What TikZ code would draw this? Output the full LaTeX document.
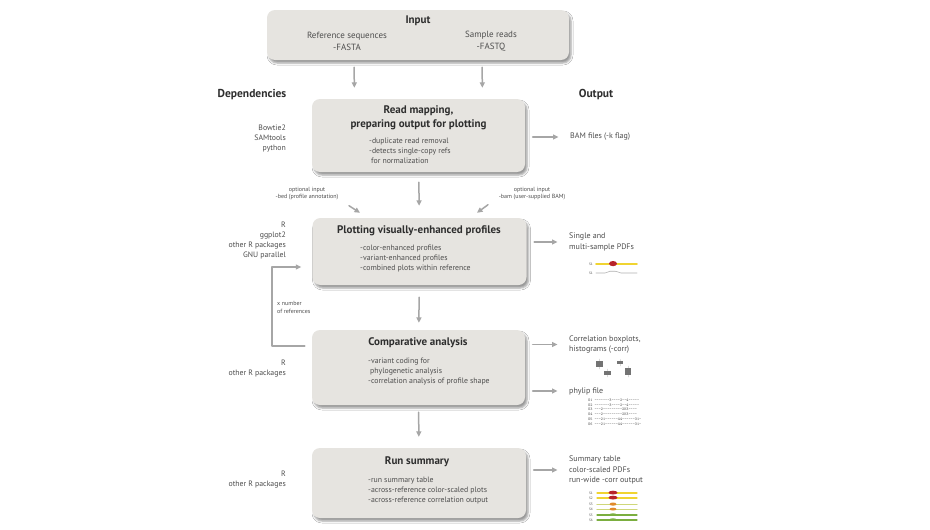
\documentclass[tikz,border=0pt]{standalone}
\usepackage{fontspec}
\setmainfont{PT Sans}
\usetikzlibrary{arrows.meta,calc,positioning,shadows.blur}
\definecolor{flowBox}{HTML}{E6E4E0}
\definecolor{flowInk}{HTML}{2E2E2E}
\definecolor{flowText}{HTML}{4D4D4D}
\definecolor{flowArrow}{HTML}{A6A6A6}
\definecolor{plotYel}{HTML}{F0D431}
\definecolor{plotRed}{HTML}{B8232B}
\definecolor{plotOra}{HTML}{E08A2A}
\definecolor{plotLime}{HTML}{CFD77A}
\definecolor{plotGrn}{HTML}{7BAE3F}

\begin{document}
\begin{tikzpicture}[x=1pt,y=-1pt,>={Triangle[length=5.5pt,width=5pt]},line cap=round,line join=round]
\path[fill=white] (0,0) rectangle (930,530);
\tikzset{stage/.style={fill=flowBox,rounded corners=8pt,blur shadow={shadow xshift=2pt,shadow yshift=-3pt,shadow blur radius=2pt,shadow opacity=40}},
  flow/.style={draw=flowArrow,line width=1.5pt,->},
  outflow/.style={flow,shorten <=7.5pt,shorten >=11.5pt},
  heading/.style={text=flowInk,font=\bfseries\fontsize{11}{14}\selectfont,align=center,inner sep=0pt},
  bullet/.style={text=flowText,font=\fontsize{7.8}{10}\selectfont,align=left,anchor=west,inner sep=0pt},
  dep/.style={text=flowText,font=\fontsize{7.8}{10}\selectfont,align=right,anchor=east,inner sep=0pt},
  result/.style={text=flowText,font=\fontsize{8}{10.5}\selectfont,align=left,anchor=west,inner sep=0pt},
  note/.style={text=flowText,font=\fontsize{6}{7.5}\selectfont,align=center,inner sep=0pt},
  tag/.style={text=flowText,font=\fontsize{3.4}{4}\selectfont,anchor=east,inner sep=0pt}}
% column headers
\node[heading,font=\bfseries\fontsize{11.5}{13}\selectfont] (deptitle) at (252,95) {Dependencies};
\node[heading,font=\bfseries\fontsize{11.5}{13}\selectfont] (outtitle) at (596,95) {Output};
% input
\node[stage,minimum width=302pt,minimum height=50pt] (input) at (418,35) {};
\node[heading] (inputtitle) at (418,21) {Input};
\node[result,anchor=center,align=center,font=\fontsize{9}{12}\selectfont] (refseq) at (347,41) {Reference sequences\\-FASTA};
\node[result,anchor=center,align=center,font=\fontsize{9}{12}\selectfont] (reads) at (491,41) {Sample reads\\-FASTQ};
% read mapping
\node[stage,minimum width=213pt,minimum height=73pt] (map) at (418.5,135.5) {};
\node[heading] (maptitle) at (418.5,118) {Read mapping,\\preparing output for plotting};
\node[bullet] (mapitems) at (369,151) {-duplicate read removal\\-detects single-copy refs\\\hspace*{2pt}for normalization};
\node[dep] (mapdeps) at (286,139) {Bowtie2\\SAMtools\\python};
\node[result] (bam) at (570,137) {BAM files (-k flag)};
% plotting
\node[stage,minimum width=214pt,minimum height=67pt] (plot) at (419.5,251.5) {};
\node[heading] (plottitle) at (419,231) {Plotting visually-enhanced profiles};
\node[bullet] (plotitems) at (360,259) {-color-enhanced profiles\\-variant-enhanced profiles\\-combined plots within reference};
\node[dep] (plotdeps) at (286,241) {R\\ggplot2\\other R packages\\GNU parallel};
\node[result] (pdfs) at (569,242) {Single and\\multi-sample PDFs};
\node[note] (optbed) at (307,193.5) {optional input\\-bed (profile annotation)};
\node[note] (optbam) at (532,193.5) {optional input\\-bam (user-supplied BAM)};
% comparative analysis
\node[stage,minimum width=213pt,minimum height=75pt] (comp) at (418.5,367.5) {};
\node[heading] (comptitle) at (418,343) {Comparative analysis};
\node[bullet] (compitems) at (368,372) {-variant coding for\\\hspace*{2pt}phylogenetic analysis\\-correlation analysis of profile shape};
\node[dep] (compdeps) at (286,368.5) {R\\other R packages};
\node[result] (corr) at (569,344.5) {Correlation boxplots,\\histograms (-corr)};
\node[result] (phylip) at (569,391) {phylip file};
\node[note,align=left,anchor=west] (loopnote) at (277,307.5) {x number\\of references};
% run summary
\node[stage,minimum width=214pt,minimum height=70pt] (sum) at (419,483) {};
\node[heading] (sumtitle) at (417,462) {Run summary};
\node[bullet] (sumitems) at (368,491) {-run summary table\\-across-reference color-scaled plots\\-across-reference correlation output};
\node[dep] (sumdeps) at (286,479.5) {R\\other R packages};
\node[result] (summary) at (569,470) {Summary table\\color-scaled PDFs\\run-wide -corr output};
% main flow
\draw[flow,shorten <=7pt,shorten >=11pt] ([xshift=-64]input.south) -- ([xshift=-64]map.north);
\draw[flow,shorten <=7pt,shorten >=11pt] ([xshift=64]input.south) -- ([xshift=64]map.north);
\draw[flow,shorten <=10pt,shorten >=12pt] (map) -- (plot);
\draw[flow,shorten <=12pt,shorten >=7pt] (plot) -- (comp);
\draw[flow,shorten <=7pt,shorten >=11pt] (comp) -- (sum);
\draw[flow] ([xshift=42,yshift=-5.5]optbed.south) -- ([xshift=-59.5,yshift=5]plot.north);
\draw[flow] ([xshift=-44,yshift=-4.5]optbam.south) -- ([xshift=57.5,yshift=5]plot.north);
\draw[flow] ([xshift=-7,yshift=21.5]comp.west) -- ++(-33,0) |- ([xshift=-11,yshift=-15.5]plot.west);
% outputs
\draw[outflow] (map.east |- bam.west) -- (bam.west);
\draw[outflow] (plot.east |- pdfs.west) -- (pdfs.west);
\draw[outflow] (comp.east |- corr.west) -- (corr.west);
\draw[outflow] (comp.east |- phylip.west) -- (phylip.west);
\draw[outflow] (sum.east |- summary.west) -- (summary.west);
% profile thumbnails
\node[tag] (pdfS1) at (593,264) {S1};
\draw[plotYel,line width=1.6pt] (596,264) -- (637,264);
\fill[plotRed] (613,263.6) ellipse [x radius=4pt,y radius=2.6pt];
\node[tag] (pdfS1b) at (593,273) {S1};
\draw[black!30,line width=.6pt] (596,273) -- (605,273) -- (608,272) -- (610,271.2) -- (615,271.2) -- (618,272) -- (621,273) -- (637,273);
% boxplots
\draw[black!15,line width=.4pt] (599.5,359) -- (599.5,369) (607.5,369) -- (607.5,377) (620,359.5) -- (620,366) (628,366) -- (628,377);
\fill[black!55] (596,361) rectangle (603,367);
\fill[black!55] (604,371) rectangle (611,375);
\fill[black!55] (617,361) rectangle (623,364);
\fill[black!55] (625,368) rectangle (631,375);
% phylip rows
\node[text=flowText,font=\ttfamily\fontsize{4}{4.8}\selectfont,align=left,anchor=west,inner sep=0pt] (phyrows) at (588,412) {S1 -------3----2--4-----\\S2 -------3----2--4-----\\S3 ---2---------2K3----\\S4 ---2---------2K3----\\S5 ---21------44------31-\\S6 ---21------44------31-};
% summary thumbnails
\foreach \ry/\lab/\linecol/\blobcol/\rx/\rh in {493/S1/plotYel/plotRed/4.5/1.9,498/S2/plotYel/plotRed/4.5/1.9,504.5/S3/plotLime/plotOra/3.5/1.6,509.5/S4/plotLime/plotOra/3.5/1.4,515/S5/plotGrn/plotGrn/3.5/1.3,520/S6/plotGrn/plotGrn/3.5/1.3}{
  \node[tag] at (593,\ry) {\lab};
  \draw[\linecol,line width=1.2pt] (597,\ry) -- (637,\ry);
  \fill[\blobcol] (613,\ry-0.4) ellipse [x radius=\rx pt,y radius=\rh pt];
}
\end{tikzpicture}
\end{document}
